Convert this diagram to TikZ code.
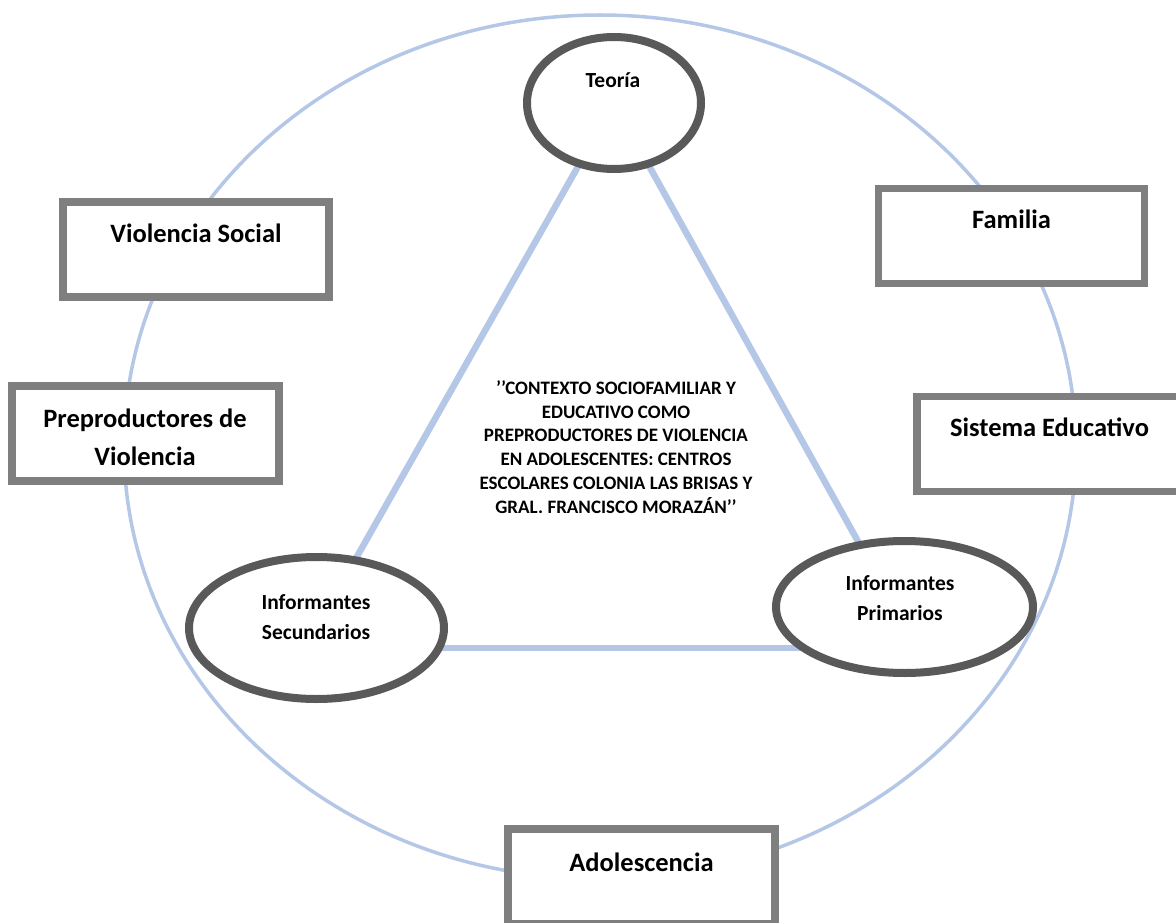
\documentclass[tikz,border=0pt]{standalone}
\usepackage{fontspec}
\setmainfont{Carlito}
\usetikzlibrary{shapes.geometric,calc}
\definecolor{ringblue}{HTML}{B4C7E7}
\definecolor{boxgray}{HTML}{7F7F7F}
\definecolor{ovalgray}{HTML}{595959}
\pgfdeclarelayer{background}
\pgfsetlayers{background,main}
\begin{document}
\begin{tikzpicture}[x=1pt,y=-1pt,
  ring/.style={draw=ringblue,line width=3.5pt},
  tri/.style={draw=ringblue,line width=6.5pt},
  oval/.style={ellipse,draw=ovalgray,line width=8pt,fill=white,inner sep=0pt},
  tbox/.style={rectangle,draw=boxgray,line width=7.5pt,fill=white,inner sep=0pt,minimum width=266,minimum height=95},
  small/.style={font=\bfseries\fontsize{21.5}{30}\selectfont,align=center,inner sep=0pt},
  big/.style={font=\bfseries\fontsize{26.5}{38}\selectfont,align=center,inner sep=0pt},
  title/.style={font=\bfseries\fontsize{19}{23.8}\selectfont,align=center,inner sep=0pt}]
\useasboundingbox (0,0) rectangle (1176,923);
% ovals
\node[oval,minimum width=174,minimum height=132] (teo) at (614,103) {};
\node[oval,minimum width=255,minimum height=142] (sec) at (316.5,628) {};
\node[oval,minimum width=257,minimum height=132] (pri) at (904.5,607) {};
\node[small] (teot) at (613,80) {Teoría};
\node[small] (sect) at (316,617) {Informantes\\Secundarios};
\node[small] (prit) at (900,598) {Informantes\\Primarios};
% ring and triangle
\begin{pgfonlayer}{background}
\draw[ring] (600,447) ellipse [x radius=476, y radius=432];
\draw[tri] (teo.center) -- (sec.center);
\draw[tri] (teo.center) -- ($(pri.center)+(-10,0)$);
\draw[tri] ($(sec.center)+(0,20)$) -- ($(pri.center)+(0,41)$);
\end{pgfonlayer}
% title
\node[title] (ttl) at (616,447) {’’CONTEXTO SOCIOFAMILIAR Y\\EDUCATIVO COMO\\PREPRODUCTORES DE VIOLENCIA\\EN ADOLESCENTES: CENTROS\\ESCOLARES COLONIA LAS BRISAS Y\\GRAL. FRANCISCO MORAZÁN’’};
% boxes
\node[tbox] (vs) at (196,249.5) {};
\node[big] (vst) at ($(vs.north)+(0,35)$) {Violencia Social};
\node[tbox] (fam) at (1011.5,236) {};
\node[big] (famt) at ($(fam.north)+(0,35)$) {Familia};
\node[tbox,minimum width=265] (se) at (1049.5,444) {};
\node[big] (set) at ($(se.north)+(0,35)$) {Sistema Educativo};
\node[tbox,minimum width=267] (pv) at (145.5,433.5) {};
\node[big] (pvt) at (145,437) {Preproductores de\\Violencia};
\node[tbox,minimum width=267] (ad) at (641.5,876.5) {};
\node[big] (adt) at ($(ad.north)+(0,37)$) {Adolescencia};
\end{tikzpicture}
\end{document}
